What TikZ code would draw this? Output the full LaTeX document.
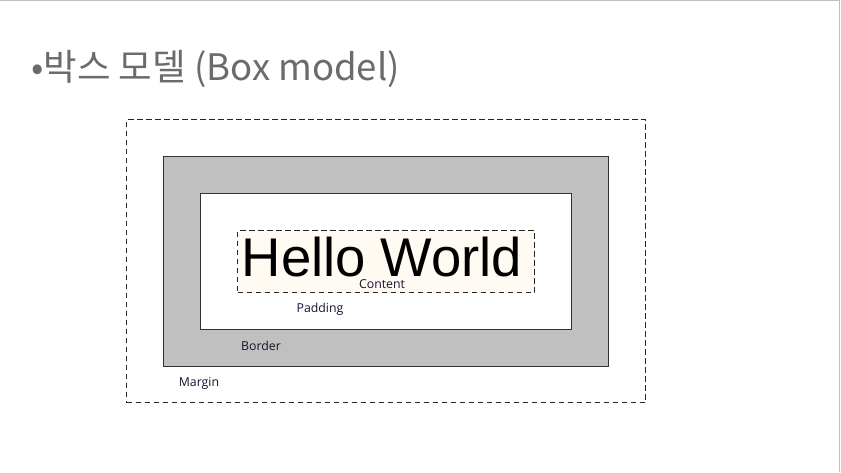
\documentclass[tikz,border=0pt]{standalone}
\usepackage{fontspec}
\setmainfont{Open Sans}
\newfontfamily\krfont{Noto Sans CJK KR}
\newfontfamily\arialfont{Liberation Sans}
\definecolor{titlegray}{HTML}{6B6B6B}
\definecolor{bordergray}{HTML}{C0C0C0}
\definecolor{cream}{HTML}{FFFBF2}
\definecolor{labelcol}{HTML}{1A1030}
\begin{document}
\begin{tikzpicture}[x=1pt,y=-1pt,
  dashbox/.style={draw=black!85,dash pattern=on 5.5pt off 3.5pt,line width=1pt},
  solidbox/.style={draw=black!80,line width=1pt},
  lbl/.style={font=\fontsize{12.3}{14}\selectfont,text=labelcol,inner sep=0pt}]
\useasboundingbox (0,0) rectangle (841,472);
\fill[white] (0,0) rectangle (841,472);
\draw[bordergray,line width=1.2pt] (0,0.6) -- (839.6,0.6) -- (839.6,472);
\node[anchor=west,inner sep=0pt,text=titlegray,font=\krfont\fontsize{36.5}{40}\selectfont] (title) at (31,69) {•박스 모델 (Box model)};
\node[dashbox,minimum width=519pt,minimum height=283pt,anchor=north west,inner sep=0pt] (margin) at (126,119) {};
\node[solidbox,fill=bordergray,minimum width=445pt,minimum height=210pt,anchor=north west,inner sep=0pt] (border) at (163,156) {};
\node[solidbox,fill=white,minimum width=371pt,minimum height=136pt,anchor=north west,inner sep=0pt] (padding) at (200,193) {};
\node[dashbox,fill=cream,minimum width=297pt,minimum height=62pt,anchor=north west,inner sep=0pt] (content) at (237,230) {};
\node[inner sep=0pt,anchor=base,font=\arialfont\fontsize{54.5}{58}\selectfont] (hello) at (382,276) {Hello World};
\node[lbl] (clabel) at (382,284.5) {Content};
\node[lbl] (plabel) at (320,309) {Padding};
\node[lbl] (blabel) at (261,346) {Border};
\node[lbl] (mlabel) at (199,383) {Margin};
\end{tikzpicture}
\end{document}
